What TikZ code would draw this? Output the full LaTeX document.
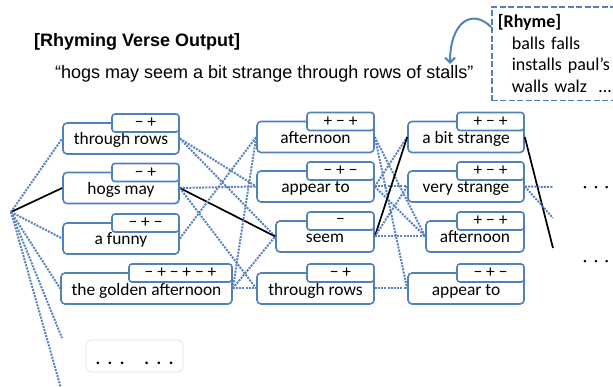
\documentclass[tikz,border=0pt]{standalone}
\usepackage{fontspec}
\setmainfont{Carlito}
\newfontfamily\arialfont{Liberation Sans}
\usetikzlibrary{arrows.meta,positioning}
\definecolor{boxblue}{RGB}{79,129,189}
\definecolor{linkblue}{RGB}{88,130,192}
\tikzset{>=latex}
\tikzset{
  word/.style={draw=boxblue, line width=1.6pt, rounded corners=4pt, fill=white,
    minimum width=116pt, minimum height=31pt, inner sep=0pt,
    text height=14pt, text depth=1pt, font=\fontsize{17.4}{20}\selectfont},
  sign/.style={draw=boxblue, line width=1.6pt, rounded corners=3pt, fill=white,
    minimum width=67pt, minimum height=18pt, inner sep=0pt, anchor=north east,
    font=\fontsize{17.4}{20}\selectfont},
  link/.style={draw=linkblue, line width=2pt, dash pattern=on 2pt off 1.2pt},
  pick/.style={draw=black, line width=1.7pt},
}

\begin{document}
\begin{tikzpicture}[x=1pt,y=-1pt]
    \useasboundingbox (0,0) rectangle (613,387);
    % heading
    \node [anchor=west, inner sep=0pt, font=\arialfont\bfseries\fontsize{18}{20}\selectfont] (title) at (34,42) {[Rhyming Verse Output]};
    \node [anchor=west, inner sep=0pt, font=\arialfont\fontsize{18}{20}\selectfont] (verse) at (55,74) {“hogs may seem a bit strange through rows of stalls”};
    \node [draw=boxblue, line width=1.6pt, dash pattern=on 6pt off 2.5pt, anchor=north west,
      text width=118pt, inner xsep=6pt, inner ysep=8pt, align=left,
      font=\fontsize{18}{21.5}\selectfont] (rhyme) at (491,6)
      {\textbf{[Rhyme]}\\ \hspace*{14pt}balls falls\\ \hspace*{14pt}installs paul’s\\ \hspace*{14pt}walls walz~~…};
    \coordinate (tip) at (450,64);
    \draw [boxblue, line width=2pt, -{Straight Barb[length=5pt,width=10pt]}]
      ([yshift=-21pt]rhyme.north west) .. controls (472,8) and (450,22) .. (tip);

    % first column
    \node [word] (a1) at (121,138.5) {through rows};
    \node [word] (a2) at (121,188) {hogs may};
    \node [word] (a3) at (121,238.5) {a funny};
    \node [word, minimum width=171pt] (a4) at (146.5,288.5) {the golden afternoon};
    \node [sign] (a1s) at ([yshift=9pt]a1.north east) {− +};
    \node [sign] (a2s) at ([yshift=9pt]a2.north east) {− +};
    \node [sign] (a3s) at ([yshift=9pt]a3.north east) {− + −};
    \node [sign, minimum width=103pt] (a4s) at ([yshift=9pt]a4.north east) {− + − + − +};
    \node [draw=gray!25, line width=0.8pt, rounded corners=5pt, minimum width=97pt, minimum height=32pt,
      inner sep=0pt, text height=16pt, text depth=0pt, font=\bfseries\fontsize{17.4}{20}\selectfont]
      (more) at (134.5,356) {.\hspace{7.5pt}.\hspace{7.5pt}.\hspace{20pt}.\hspace{7.5pt}.\hspace{7.5pt}.};

    % second column
    \node [word, minimum width=117pt] (b1) at (315.5,137) {afternoon};
    \node [word, minimum width=117pt] (b2) at (315.5,186.5) {appear to};
    \node [word, minimum width=98pt] (b3) at (325,236.5) {seem};
    \node [word, minimum width=117pt] (b4) at (315.5,288.5) {through rows};
    \node [sign] (b1s) at ([yshift=9pt]b1.north east) {+ − +};
    \node [sign] (b2s) at ([yshift=9pt]b2.north east) {− + −};
    \node [sign] (b3s) at ([yshift=9pt]b3.north east) {−};
    \node [sign] (b4s) at ([yshift=9pt]b4.north east) {− +};

    % third column
    \node [word] (c1) at (466,137) {a bit strange};
    \node [word] (c2) at (466,186.5) {very strange};
    \node [word, minimum width=98pt] (c3) at (475,236.5) {afternoon};
    \node [word] (c4) at (466,288.5) {appear to};
    \node [sign] (c1s) at ([yshift=9pt]c1.north east) {+ − +};
    \node [sign] (c2s) at ([yshift=9pt]c2.north east) {+ − +};
    \node [sign] (c3s) at ([yshift=9pt]c3.north east) {+ − +};
    \node [sign] (c4s) at ([yshift=9pt]c4.north east) {− + −};

    \node [font=\fontsize{17.4}{20}\selectfont, inner sep=0pt] (etc1) at (596,189) {·\hspace{6.5pt}·\hspace{6.5pt}·};
    \node [font=\fontsize{17.4}{20}\selectfont, inner sep=0pt] (etc2) at (596,263) {·\hspace{6.5pt}·\hspace{6.5pt}·};

    % lattice links
    \coordinate (root) at (11,212);
    \coordinate (low1) at (62,338);
    \coordinate (low2) at (62,392);
    \coordinate (d1) at (553,187);
    \coordinate (d2) at (553,218);
    \coordinate (d3) at (553,248);
    \draw [link] (root) -- (a1.west);
    \draw [pick] (root) -- (a2.west);
    \draw [link] (root) -- (a3.west);
    \draw [link] (root) -- (a4.west);
    \draw [link] (root) -- (low1);
    \draw [link] (root) -- (low2);
    \draw [link] (a1.east) -- (b2.west);
    \draw [link] (a1.east) -- (b3.west);
    \draw [link] (a2.east) -- (b2.west);
    \draw [pick] (a2.east) -- (b3.west);
    \draw [link] (a2.east) -- (b4.west);
    \draw [link] (a3.east) -- (b1.west);
    \draw [link] (a4.east) -- (b1.west);
    \draw [link] (a4.east) -- (b3.west);
    \draw [link] (a4.east) -- (b4.west);
    \draw [link] (b1.east) -- (c3.west);
    \draw [link] (b1.east) -- (c4.west);
    \draw [link] (b2.east) -- (c1.west);
    \draw [link] (b2.east) -- (c2.west);
    \draw [link] (b2.east) -- (c3.west);
    \draw [pick] (b3.east) -- (c1.west);
    \draw [link] (b3.east) -- (c2.west);
    \draw [link] (b3.east) -- (c3.west);
    \draw [link] (b4.east) -- (c4.west);
    \draw [pick] (c1.east) -- (d3);
    \draw [link] (c2.east) -- (d1);
    \draw [link] (c2.east) -- (d2);
\end{tikzpicture}
\end{document}
